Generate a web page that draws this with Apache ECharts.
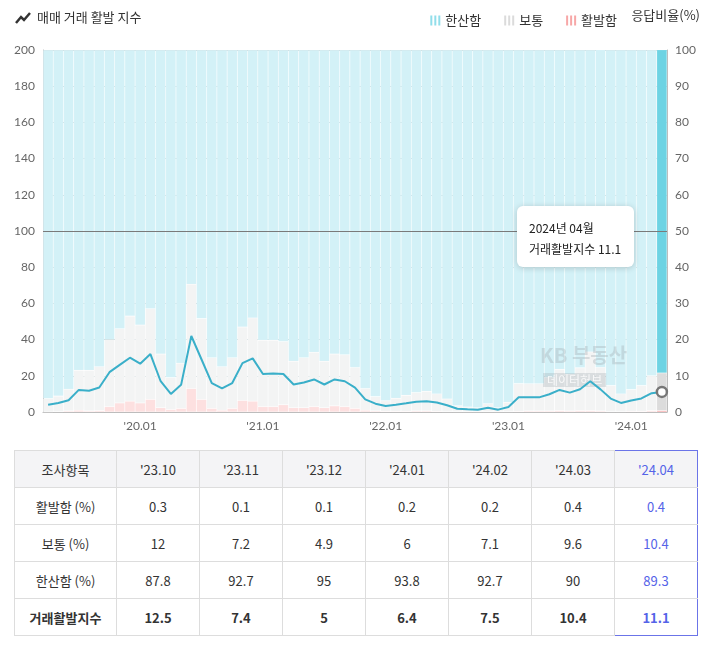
<!DOCTYPE html>
<html><head><meta charset="utf-8">
<script src="https://cdn.jsdelivr.net/npm/echarts@6/dist/echarts.min.js"></script>
<style>
body{margin:0;background:#fff;font-family:Lato,"Noto Sans CJK KR",sans-serif;}
#c{width:706px;height:440px;}
#tip{position:absolute;left:517px;top:206px;width:117px;height:61px;background:#fff;border-radius:6px;box-shadow:0 1px 6px rgba(0,0,0,0.18);font-family:"Noto Sans CJK KR",sans-serif;font-size:12px;color:#222;box-sizing:border-box;padding:11px 0 0 12px;line-height:21px;}
table{position:absolute;left:14px;top:450px;border-collapse:collapse;font-family:"Noto Sans CJK KR",Lato,sans-serif;font-size:13px;color:#333;}
td{border:1px solid #ddd;text-align:center;height:36px;width:82px;padding:0;}
td.h{width:101px;}
tr.hd td{background:#f4f4f6;}
tr.b td{font-weight:bold;}
td.sel{color:#5563e8;border-left:1px solid #6b74e8;border-right:1px solid #6b74e8;}
tr:first-child td.sel{border-top:1px solid #6b74e8;}
tr:last-child td.sel{border-bottom:1px solid #6b74e8;}
</style></head><body>
<div id="c"></div>
<div id="tip"></div>
<table id="t"></table>
<script>
const months = ["'19.04","'19.05","'19.06","'19.07","'19.08","'19.09","'19.10","'19.11","'19.12",
"'20.01","'20.02","'20.03","'20.04","'20.05","'20.06","'20.07","'20.08","'20.09","'20.10","'20.11","'20.12",
"'21.01","'21.02","'21.03","'21.04","'21.05","'21.06","'21.07","'21.08","'21.09","'21.10","'21.11","'21.12",
"'22.01","'22.02","'22.03","'22.04","'22.05","'22.06","'22.07","'22.08","'22.09","'22.10","'22.11","'22.12",
"'23.01","'23.02","'23.03","'23.04","'23.05","'23.06","'23.07","'23.08","'23.09","'23.10","'23.11","'23.12",
"'24.01","'24.02","'24.03","'24.04"];
const active = [0,0.1,0.3,0.5,0.3,0.4,1.5,2.5,3,2.5,3.5,1.2,0.7,1,6.5,3.5,1,0.5,1,3.2,3,1.5,1.5,2,1.2,1.2,1.5,1.2,1.7,1.5,1,
0.5,0.3,0.2,0.2,0.2,0.3,0.3,0.2,0.1,0.1,0.1,0.1,0.1,0.1,0.1,0.2,0.3,0.3,0.3,0.4,0.3,0.4,0.4,0.3,0.1,0.1,0.2,0.2,0.4,0.4];
const normal = [3.7,4.3,6,11,11.2,12.1,18.5,20.5,23.5,21.5,25,14.8,8.8,12.5,28.8,22.3,14,12,14,20.3,23,18.3,18.3,17.5,12.8,13.8,15,12.8,14.3,14.3,11.3,
6,4,2.9,3.6,4.4,5.1,5.4,4.8,3.5,1.6,1.3,1.1,2.2,1.1,2.6,7.7,7.5,7.5,9.2,11.4,10.1,11.8,16.2,12,7.2,4.9,6,7.1,9.6,10.4];
const quiet = [96.3,95.6,93.7,88.5,88.5,87.5,80,77,73.5,76,71.5,84,90.5,86.5,64.7,74.2,85,87.5,85,76.5,74,80.2,80.2,80.5,86,85,83.5,86,84,84.2,87.7,
93.5,95.7,96.9,96.2,95.4,94.6,94.3,95,96.4,98.3,98.6,98.8,97.7,98.8,97.3,92.1,92.2,92.2,90.5,88.2,89.6,87.8,83.4,87.8,92.7,95,93.8,92.7,90,89.3];
const indexVal = [4,5,6.5,12.2,11.7,13.5,22,26,30,26.7,32,17,10,15,42,29,16,13,16,27,29.6,21,21.3,21,15.2,16.3,18,15.2,18,17,13.5,
7,4.6,3.3,4,4.8,5.7,6,5.2,3.7,1.8,1.5,1.3,2.4,1.3,2.8,8.1,8.1,8.1,9.8,12.2,10.7,12.6,17,12.5,7.4,5,6.4,7.5,10.4,11.1];
const leftTicks = [0,200,20];
const rightTicks = [0,100,10];
const tableCols = ["'23.10","'23.11","'23.12","'24.01","'24.02","'24.03","'24.04"];
const tableRows = [
 ["활발함 (%)",[0.3,0.1,0.1,0.2,0.2,0.4,0.4]],
 ["보통 (%)",[12,7.2,4.9,6,7.1,9.6,10.4]],
 ["한산함 (%)",[87.8,92.7,95,93.8,92.7,90,89.3]],
 ["거래활발지수",[12.5,7.4,5,6.4,7.5,10.4,11.1]]
];
const last = months.length-1;
function col(arr,c,cl){return arr.map((v,i)=>({value:v,itemStyle:{color:i===last?cl:c}}));}
const ch = echarts.init(document.getElementById('c'));
const bs = {type:'bar',stack:'s',yAxisIndex:1,barCategoryGap:'0%',itemStyle:{borderColor:'rgba(255,255,255,0.25)',borderWidth:0.5}};
ch.setOption({
 animation:false,
 textStyle:{fontFamily:'Lato, "Noto Sans CJK KR", sans-serif'},
 grid:{left:43,right:39,top:50,bottom:28},
 legend:{right:84,top:9,itemWidth:10,itemHeight:12,itemGap:22,icon:'path://M0,0h2v10h-2zM4,0h2v10h-2zM8,0h2v10h-2z',
   textStyle:{fontSize:13,color:'#333',fontFamily:'"Noto Sans CJK KR"'},
   data:[{name:'한산함',itemStyle:{color:'#6dd3e3'}},{name:'보통',itemStyle:{color:'#cfcfcf'}},{name:'활발함',itemStyle:{color:'#f58a8a'}}]},
 xAxis:{type:'category',data:months,axisTick:{show:false},axisLine:{lineStyle:{color:'#bbb'}},
   axisLabel:{color:'#666',fontSize:12,interval:0,formatter:(v)=>(v.endsWith('.01')&&v!=="'19.01")?v:''}},
 yAxis:[
  {type:'value',min:leftTicks[0],max:leftTicks[1],interval:leftTicks[2],axisLabel:{color:'#666',fontSize:12},
   axisLine:{show:true,lineStyle:{color:'#bbb'}},splitLine:{lineStyle:{color:'#c3d3d7'}}},
  {type:'value',min:rightTicks[0],max:rightTicks[1],interval:rightTicks[2],axisLabel:{color:'#666',fontSize:12},
   axisLine:{show:true,lineStyle:{color:'#bbb'}},splitLine:{show:false}}
 ],
 graphic:[
  {type:'polyline',shape:{points:[[16,23],[21,17],[24,20],[30,13]]},style:{stroke:'#333',lineWidth:2.5,fill:null}},
  {type:'text',left:37,top:11,style:{text:'매매 거래 활발 지수',font:'13px "Noto Sans CJK KR"',fill:'#333'}},
  {type:'text',right:6,top:9,style:{text:'응답비율(%)',font:'13px "Noto Sans CJK KR"',fill:'#333'}},
  {type:'text',left:540,top:345,z:5,style:{text:'KB 부동산',font:'bold 20px "Noto Sans CJK KR"',fill:'rgba(160,170,175,0.35)'}},
  {type:'text',left:543,top:373,z:5,style:{text:'데이터허브',font:'12px "Noto Sans CJK KR"',fill:'rgba(255,255,255,0.8)',backgroundColor:'rgba(160,170,175,0.3)',padding:[1,4]}}
 ],
 series:[
  Object.assign({name:'활발함',data:col(active,'#fde0e0','#f8a5a5')},bs),
  Object.assign({name:'보통',data:col(normal,'#f3f4f4','#dcdcdc')},bs),
  Object.assign({name:'한산함',data:col(quiet,'#d3f1f7','#6dd3e3')},bs),
  {type:'line',name:'지수',yAxisIndex:0,data:indexVal.map((v,i)=>({value:v,symbol:i===last?'circle':'none',symbolSize:10})),
   lineStyle:{color:'#3aafc9',width:2},itemStyle:{color:'#fff',borderColor:'#777',borderWidth:2.5},z:10,
   markLine:{silent:true,symbol:'none',label:{show:false},lineStyle:{color:'#7a7a7a',type:'solid',width:1},data:[{yAxis:100}]}}
 ]
});
document.getElementById('tip').innerHTML='2024년 04월<br>거래활발지수 '+indexVal[last];
const t=document.getElementById('t');
let h='<tr class="hd"><td class="h">조사항목</td>'+tableCols.map((c,i)=>`<td class="${i===6?'sel':''}">${c}</td>`).join('')+'</tr>';
tableRows.forEach((r,k)=>{h+=`<tr class="${k===3?'b':''}"><td class="h">${r[0]}</td>`+r[1].map((v,i)=>`<td class="${i===6?'sel':''}">${v}</td>`).join('')+'</tr>';});
t.innerHTML=h;
</script></body></html>
